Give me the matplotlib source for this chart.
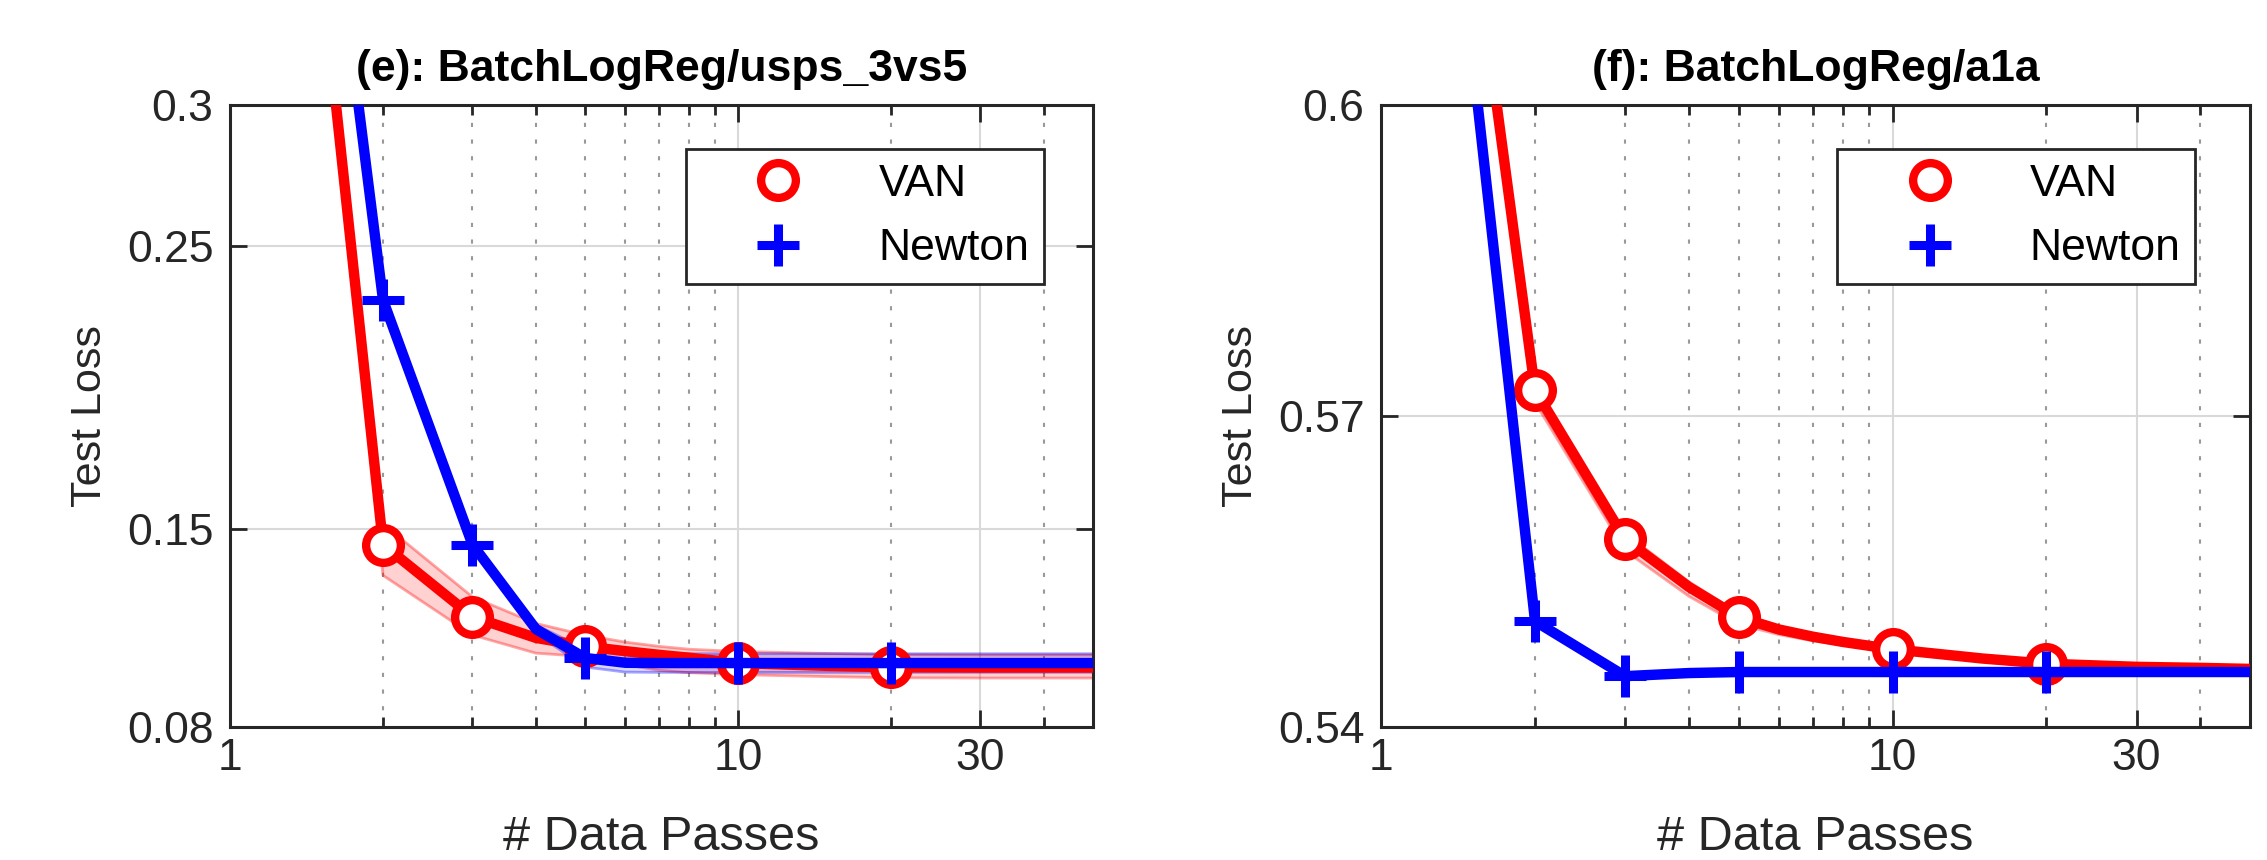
import numpy as np
import matplotlib.pyplot as plt
from matplotlib.lines import Line2D
from matplotlib.ticker import FixedLocator, NullFormatter, FixedFormatter

plt.rcParams['font.family'] = ['Liberation Sans', 'DejaVu Sans']

# data passes at which the test loss was logged
passes = [1, 2, 3, 4, 5, 6, 7, 8, 10, 15, 20, 30, 40, 50]
marked = [2, 3, 5, 10, 20]

# (e) usps_3vs5
e_van = [0.65, 0.1445, 0.119, 0.1115, 0.1085, 0.1068, 0.1055, 0.1045, 0.1026, 0.1016, 0.1011, 0.1010, 0.1010, 0.1010]
e_van_lo = [0.65, 0.1336, 0.1125, 0.1061, 0.1049, 0.1020, 0.1000, 0.0992, 0.0985, 0.0978, 0.0974, 0.0973, 0.0973, 0.0973]
e_van_hi = [0.65, 0.1518, 0.1260, 0.1166, 0.1125, 0.1100, 0.1085, 0.1075, 0.1067, 0.1060, 0.1056, 0.1055, 0.1055, 0.1055]
e_newton = [0.66, 0.231, 0.1445, 0.1146, 0.1044, 0.1027, 0.1026, 0.1026, 0.1026, 0.1026, 0.1026, 0.1026, 0.1026, 0.1026]
e_newton_lo = [0.66, 0.231, 0.1440, 0.1131, 0.1012, 0.0994, 0.0993, 0.0993, 0.0993, 0.0993, 0.0993, 0.0993, 0.0993, 0.0993]
e_newton_hi = [0.66, 0.231, 0.1450, 0.1161, 0.1076, 0.1060, 0.1059, 0.1059, 0.1059, 0.1059, 0.1059, 0.1059, 0.1059, 0.1059]

# (f) a1a
f_van = [0.683, 0.5725, 0.5581, 0.5535, 0.5506, 0.5494, 0.5487, 0.5482, 0.5475, 0.5466, 0.5461, 0.5458, 0.5457, 0.5456]
f_van_lo = [0.683, 0.5713, 0.5570, 0.5526, 0.5499, 0.5489, 0.5483, 0.5479, 0.5472, 0.5464, 0.5459, 0.5456, 0.5455, 0.5454]
f_van_hi = [0.683, 0.5731, 0.5587, 0.5540, 0.5510, 0.5497, 0.5489, 0.5484, 0.5477, 0.5467, 0.5462, 0.5459, 0.5458, 0.5457]
f_newton = [0.684, 0.5502, 0.5449, 0.5452, 0.5453, 0.5453, 0.5453, 0.5453, 0.5453, 0.5453, 0.5453, 0.5453, 0.5453, 0.5453]

panels = [
    dict(title='(e): BatchLogReg/usps_3vs5', van=e_van, van_lo=e_van_lo, van_hi=e_van_hi,
         nt=e_newton, nt_lo=e_newton_lo, nt_hi=e_newton_hi,
         ylim=(0.08, 0.3), yticks=[0.08, 0.15, 0.25, 0.3], ylabels=['0.08', '0.15', '0.25', '0.3'],
         rect=[0.1015, 0.1547, 0.3807, 0.7233], leg=(0.943, 0.929)),
    dict(title='(f): BatchLogReg/a1a', van=f_van, van_lo=f_van_lo, van_hi=f_van_hi,
         nt=f_newton, nt_lo=None, nt_hi=None,
         ylim=(0.54, 0.6), yticks=[0.54, 0.57, 0.6], ylabels=['0.54', '0.57', '0.6'],
         rect=[0.6092, 0.1547, 0.3833, 0.7233], leg=(0.937, 0.929)),
]

fig = plt.figure(figsize=(22.67, 8.6), dpi=100)
dark = (0.15, 0.15, 0.15)
idx = [passes.index(m) for m in marked]

for p in panels:
    ax = fig.add_axes(p['rect'])
    ax.set_xscale('log')
    ax.fill_between(passes, p['van_lo'], p['van_hi'], color='red', alpha=0.18, lw=0, zorder=2)
    ax.plot(passes, p['van_lo'], color='red', alpha=0.35, lw=2, zorder=2)
    ax.plot(passes, p['van_hi'], color='red', alpha=0.35, lw=2, zorder=2)
    if p['nt_lo'] is not None:
        ax.fill_between(passes, p['nt_lo'], p['nt_hi'], color='blue', alpha=0.15, lw=0, zorder=2)
        ax.plot(passes, p['nt_lo'], color='blue', alpha=0.35, lw=2, zorder=2)
        ax.plot(passes, p['nt_hi'], color='blue', alpha=0.35, lw=2, zorder=2)
    ax.plot(passes, p['van'], color='red', lw=7.5, marker='o', markevery=idx, ms=25,
            mfc='white', mec='red', mew=6, zorder=3)
    ax.plot(passes, p['nt'], color='blue', lw=7.5, marker='+', markevery=idx, ms=30,
            mec='blue', mew=6.5, zorder=4)

    ax.set_xlim(1, 50)
    ax.set_ylim(*p['ylim'])
    ax.xaxis.set_major_locator(FixedLocator([1, 10, 30]))
    ax.xaxis.set_major_formatter(FixedFormatter(['1', '10', '30']))
    ax.xaxis.set_minor_locator(FixedLocator([2, 3, 4, 5, 6, 7, 8, 9, 20, 40]))
    ax.xaxis.set_minor_formatter(NullFormatter())
    ax.set_yticks(p['yticks'])
    ax.set_yticklabels(p['ylabels'])

    ax.grid(True, which='major', color=(0.85, 0.85, 0.85), lw=1.5, zorder=0)
    ax.grid(True, which='minor', axis='x', color=(0.6, 0.6, 0.6), lw=1.5, ls=(0, (2, 6)), zorder=0)
    ax.set_axisbelow(True)

    ax.tick_params(which='both', direction='in', top=True, right=True, colors=dark,
                   labelsize=32, width=2)
    ax.tick_params(axis='x', pad=8)
    ax.tick_params(axis='y', pad=12)
    ax.tick_params(which='major', length=12)
    ax.tick_params(which='minor', length=7)
    for s in ax.spines.values():
        s.set_color(dark)
        s.set_linewidth(2.2)

    ax.set_xlabel('# Data Passes', fontsize=35, color=dark, labelpad=26)
    ax.set_ylabel('Test Loss', fontsize=31, color=dark, labelpad=12)
    ax.set_title(p['title'], fontsize=32, fontweight='bold', pad=17)

    handles = [Line2D([], [], ls='none', marker='o', ms=25, mfc='white', mec='red', mew=6),
               Line2D([], [], ls='none', marker='+', ms=30, mec='blue', mew=6.5)]
    leg = ax.legend(handles, ['VAN', 'Newton'], loc='upper right', bbox_to_anchor=p['leg'],
                    borderaxespad=0, fontsize=32, frameon=True, fancybox=False,
                    handlelength=3.5, handletextpad=0.5, borderpad=0.33, labelspacing=0.53)
    leg.get_frame().set_edgecolor(dark)
    leg.get_frame().set_linewidth(2)
    leg.get_frame().set_alpha(1)

fig.savefig('out.png', dpi=100)
